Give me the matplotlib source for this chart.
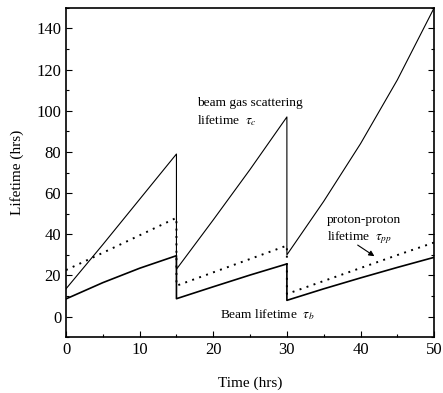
import matplotlib
matplotlib.use("Agg")
import matplotlib.pyplot as plt
from matplotlib.ticker import MultipleLocator

plt.rcParams['font.family'] = ['Liberation Serif', 'DejaVu Serif']
plt.rcParams['mathtext.fontset'] = 'stix'

# Time (hrs) sample points for each fill cycle (vertical drops at refills 15 and 30 h)
time_hrs = [0, 5, 10, 15, 15, 20, 25, 30, 30, 35, 40, 45, 50]
beam_gas_lifetime = [13.5, 35, 57, 79, 23, 47, 71.5, 97, 30, 56, 84, 115, 150]
proton_proton_lifetime = [22.6, 31, 39.5, 48, 15, 21.5, 28, 34.5, 11, 17.3, 23.6, 29.9, 36]
beam_lifetime = [8.6, 16.5, 23.5, 29.6, 8.7, 14.5, 20.2, 25.6, 7.9, 13.5, 18.8, 23.9, 28.8]

x_ticks = [0, 10, 20, 30, 40, 50]
y_ticks = [0, 20, 40, 60, 80, 100, 120, 140]

fig = plt.figure(figsize=(4.43, 3.93), dpi=100)
ax = fig.add_axes([0.149, 0.142, 0.831, 0.838])

ax.plot(time_hrs, beam_gas_lifetime, color='black', lw=0.8)
ax.plot(time_hrs, proton_proton_lifetime, color='black', lw=1.4,
        linestyle=(0, (1, 2.8)))
ax.plot(time_hrs, beam_lifetime, color='black', lw=1.2)

ax.set_xlim(0, 50)
ax.set_ylim(-10, 150)
ax.set_xticks(x_ticks)
ax.set_yticks(y_ticks)
ax.xaxis.set_minor_locator(MultipleLocator(5))
ax.yaxis.set_minor_locator(MultipleLocator(10))
ax.tick_params(which='both', direction='in', right=True, top=False,
               labelsize=12, width=0.8)
ax.tick_params(which='major', length=4)
ax.tick_params(which='minor', length=2.5)
for s in ax.spines.values():
    s.set_linewidth(1.2)

ax.set_xlabel('Time (hrs)', fontsize=11, labelpad=13)
ax.set_ylabel('Lifetime (hrs)', fontsize=11, labelpad=9)

ax.text(17.8, 104, 'beam gas scattering', fontsize=9.6, va='center', ha='left')
ax.text(17.8, 95, r'lifetime  $\tau_c$', fontsize=9.6, va='center', ha='left')
ax.text(35.4, 47, 'proton-proton', fontsize=9.6, va='center', ha='left')
ax.text(35.4, 38.5, r'lifetime  $\tau_{pp}$', fontsize=9.6, va='center', ha='left')
ax.annotate('', xy=(42.2, 28.6), xytext=(39.3, 35.5),
            arrowprops=dict(arrowstyle='-|>', color='black', lw=0.8,
                            mutation_scale=8))
ax.text(20.9, 0.8, r'Beam lifetime  $\tau_b$', fontsize=9.6, va='center', ha='left')

fig.savefig('out.png', dpi=100)
